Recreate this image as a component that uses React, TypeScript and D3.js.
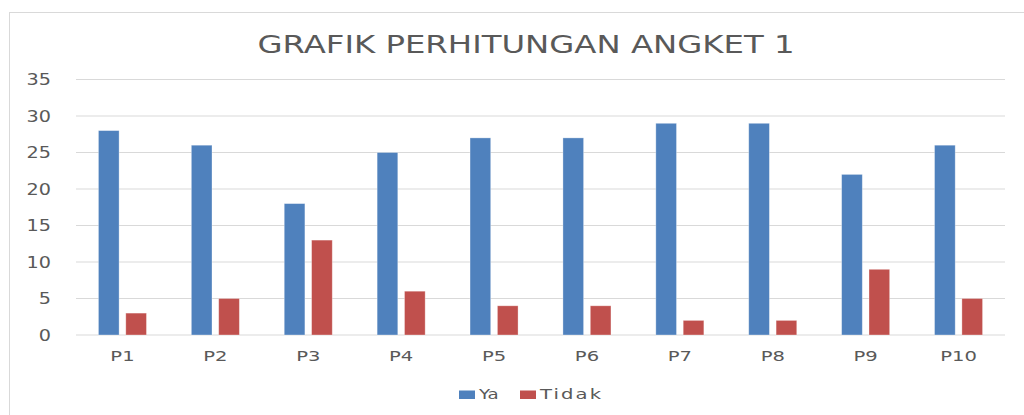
import React from "react";
import * as d3 from "d3";

const categories = ["P1", "P2", "P3", "P4", "P5", "P6", "P7", "P8", "P9", "P10"];
const seriesNames = ["Ya", "Tidak"];
const ya = [28, 26, 18, 25, 27, 27, 29, 29, 22, 26];
const tidak = [3, 5, 13, 6, 4, 4, 2, 2, 9, 5];
const yTicks = [0, 5, 10, 15, 20, 25, 30, 35];
const colors = ["#4F81BD", "#C0504D"];

const W = 1024;
const H = 415;
const font = "'DejaVu Sans', sans-serif";
const gray = "#595959";

// the original text is drawn wide, so squeeze it out horizontally
function WideText({ x, y, sx, anchor = "start", size = 14, spacing = 0, children }: any) {
  return (
    <text
      transform={`translate(${x},${y}) scale(${sx},1)`}
      textAnchor={anchor}
      fontFamily={font}
      fontSize={size}
      fill={gray}
      letterSpacing={spacing}
    >
      {children}
    </text>
  );
}

export default function App() {
  const left = 76;
  const right = 1005;
  const top = 79.5;
  const bottom = 335;

  const y = d3.scaleLinear().domain([0, 35]).range([bottom, top]);
  const x0 = d3.scaleBand().domain(categories).range([left, right]).padding(0);
  const x1 = d3
    .scaleBand()
    .domain(seriesNames)
    .range([0, x0.bandwidth()])
    .paddingInner(0.245)
    .paddingOuter(0.82);

  const values = [ya, tidak];

  return (
    <svg
      width={W}
      height={H}
      style={{ position: "absolute", left: 0, top: 0, display: "block", background: "#fff" }}
    >
      {/* chart frame */}
      <rect x={9.5} y={12.5} width={1040} height={420} fill="#fff" stroke="#d9d9d9" strokeWidth={1} />

      <text
        x={526}
        y={53}
        textAnchor="middle"
        fontFamily={font}
        fontSize={24}
        fill={gray}
        textLength={537}
        lengthAdjust="spacingAndGlyphs"
      >
        GRAFIK PERHITUNGAN ANGKET 1
      </text>

      {/* gridlines + y labels */}
      {yTicks.map((t) => (
        <g key={t}>
          <line x1={left} x2={right} y1={y(t)} y2={y(t)} stroke="#d9d9d9" strokeWidth={1.2} />
          <WideText x={51} y={y(t) + 5.5} sx={1.28} anchor="end" size={15}>
            {t}
          </WideText>
        </g>
      ))}

      {/* bars */}
      {categories.map((c, i) => (
        <g key={c} transform={`translate(${x0(c)},0)`}>
          {seriesNames.map((s, k) => (
            <rect
              key={s}
              x={x1(s)}
              y={y(values[k][i])}
              width={x1.bandwidth()}
              height={y(0) - y(values[k][i])}
              fill={colors[k]}
              stroke="#ffffff"
              strokeOpacity={0.4}
              strokeWidth={0.8}
            />
          ))}
          <WideText x={x0.bandwidth() / 2} y={361} sx={1.45} anchor="middle" size={13.5}>
            {c}
          </WideText>
        </g>
      ))}

      {/* legend */}
      <rect x={459} y={390.5} width={16} height={8.5} fill={colors[0]} />
      <WideText x={479} y={399} sx={1.3} size={14}>
        Ya
      </WideText>
      <rect x={520} y={390.5} width={16} height={8.5} fill={colors[1]} />
      <WideText x={540} y={399} sx={1.4} size={14} spacing={1.5}>
        Tidak
      </WideText>
    </svg>
  );
}
